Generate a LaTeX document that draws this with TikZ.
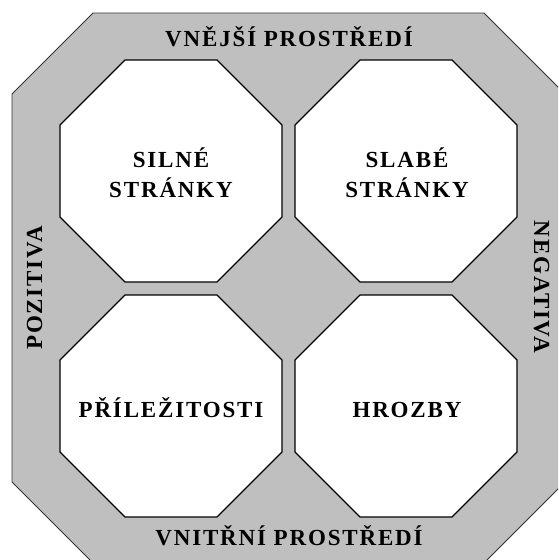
\documentclass[tikz,border=0pt]{standalone}
\usepackage{fontspec}
\setmainfont{Liberation Serif}
\newfontfamily\swotfont[LetterSpace=8]{Liberation Serif}
\usepackage{tikz}

\begin{document}
\begin{tikzpicture}[x=1pt, y=-1pt, font=\fontsize{23}{30}\selectfont\swotfont\bfseries,
  field/.style={fill=white, draw=black, line width=1.3pt}]
\useasboundingbox (0,0) rectangle (558,560);
\clip (0,0) rectangle (558,560);
\draw[fill=black!25, draw=black!80, line width=0.9pt] (93,13) -- (484,13) -- (565,94) -- (565,482) -- (484,563) -- (93,563) -- (12,482) -- (12,94) -- cycle;
\foreach \x/\y in {60/60,295/60,60/295,295/295} {
  \draw[field] (\x+65,\y) -- ++(92,0) -- ++(65,65) -- ++(0,92) -- ++(-65,65) -- ++(-92,0) -- ++(-65,-65) -- ++(0,-92) -- cycle; }

\node[anchor=base] (vnejsi) at (289,46) {VNĚJŠÍ PROSTŘEDÍ};
\node[anchor=base] (vnitrni) at (289,545) {VNITŘNÍ PROSTŘEDÍ};
\node[anchor=base, rotate=90] (pozitiva) at (42,288) {POZITIVA};
\node[anchor=base, rotate=-90] (negativa) at (534,287) {NEGATIVA};
\node[anchor=base, align=center] (silne) at (171,197) {SILNÉ\\STRÁNKY};
\node[anchor=base, align=center] (slabe) at (407,197) {SLABÉ\\STRÁNKY};
\node[anchor=base] (prilezitosti) at (171,417) {PŘÍLEŽITOSTI};
\node[anchor=base] (hrozby) at (407,417) {HROZBY};
\end{tikzpicture}
\end{document}
